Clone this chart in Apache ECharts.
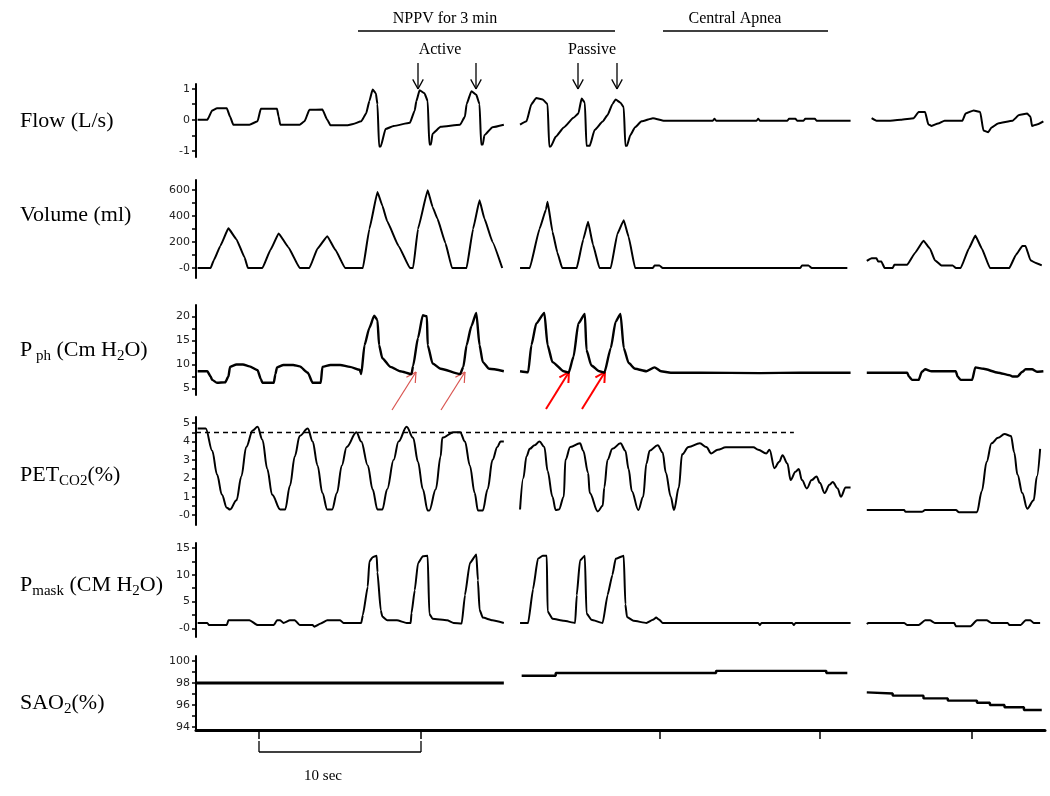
<!DOCTYPE html>
<html><head><meta charset="utf-8">
<script src="https://cdn.jsdelivr.net/npm/echarts@6/dist/echarts.min.js"></script>
<style>html,body{margin:0;padding:0;background:#fff}#c{width:1050px;height:796px}</style>
</head><body><div id="c"></div>
<script>
// ---- time in seconds (x), values per panel (y) ----
const T_MAX = 52.4;
const bottomTicks = [3.9, 13.9, 28.6, 38.5, 47.9];

const flowA = [[0.1,0],[0.7,0],[1.0,0.3],[1.3,0.37],[1.9,0.37],[2.1,0.1],[2.3,-0.16],[3.3,-0.16],[3.8,-0.05],[4.0,0.35],[5.0,0.35],[5.1,0.1],[5.2,-0.16],[6.4,-0.16],[6.7,-0.05],[7.0,0.32],[7.8,0.33],[8.1,0.0],[8.3,-0.18],[9.3,-0.18],[9.7,-0.14],[10.2,-0.05],[10.5,0.2],[10.7,0.6],[10.9,0.97],[11.1,0.85],[11.2,0.5],[11.3,-0.86],[11.4,-0.86],[11.7,-0.3],[12.2,-0.2],[13.2,-0.1],[13.5,0.3],[13.6,0.6],[13.8,0.95],[14.1,0.85],[14.3,0.6],[14.4,-0.8],[14.5,-0.8],[14.6,-0.45],[15.1,-0.23],[16.3,-0.16],[16.6,0.1],[16.7,0.5],[17.0,0.92],[17.3,0.8],[17.5,0.5],[17.6,-0.8],[17.7,-0.8],[17.8,-0.5],[18.3,-0.24],[19.0,-0.16]];
const flowB = [[20.0,-0.16],[20.4,-0.05],[20.7,0.5],[21.0,0.7],[21.4,0.65],[21.7,0.5],[21.8,-0.86],[21.9,-0.86],[22.2,-0.55],[22.7,-0.25],[23.3,0.06],[23.6,0.2],[23.8,0.68],[24.0,0.55],[24.1,-0.84],[24.3,-0.84],[24.6,-0.33],[25.1,-0.06],[25.4,0.15],[25.7,0.5],[25.9,0.65],[26.2,0.55],[26.4,0.4],[26.5,-0.84],[26.6,-0.84],[26.8,-0.5],[27.1,-0.24],[27.5,-0.05],[28.2,0.05],[28.9,-0.03],[31.9,-0.03],[32.0,0.03],[32.1,-0.03],[34.6,-0.03],[34.7,0.03],[34.8,-0.03],[36.5,-0.03],[36.6,0.03],[37.0,0.03],[37.1,-0.03],[37.5,-0.03],[37.6,0.03],[38.2,0.03],[38.3,-0.03],[40.4,-0.03]];
const flowC = [[41.7,0.05],[42.0,-0.03],[42.8,-0.03],[43.5,0.0],[44.3,0.05],[44.6,0.25],[45.0,0.25],[45.2,-0.15],[45.4,-0.2],[45.8,-0.12],[46.2,-0.03],[47.3,-0.03],[47.5,0.2],[48.0,0.3],[48.4,0.25],[48.6,-0.35],[48.9,-0.4],[49.1,-0.25],[49.5,-0.12],[50.4,-0.03],[50.8,0.15],[51.3,0.2],[51.5,0.1],[51.6,-0.2],[51.9,-0.15],[52.3,-0.05]];

const volA = [[0.1,0],[0.9,0],[1.1,60],[1.5,170],[2.0,305],[2.5,220],[3.0,80],[3.2,0],[4.1,0],[4.6,140],[5.1,266],[5.7,160],[6.4,0],[7.0,0],[7.5,150],[8.1,245],[8.6,140],[9.2,0],[10.3,0],[10.7,300],[11.2,585],[11.5,480],[11.8,360],[12.5,170],[13.2,0],[13.4,0],[13.7,300],[14.3,598],[14.6,470],[14.9,380],[15.4,190],[15.8,0],[16.7,0],[17.1,300],[17.5,521],[17.8,380],[18.3,200],[18.9,0]];
const volB = [[20.0,0],[20.6,0],[21.2,300],[21.6,450],[21.7,509],[22.0,280],[22.3,120],[22.6,0],[23.5,0],[23.9,220],[24.2,355],[24.5,180],[24.9,0],[25.6,0],[26.0,260],[26.4,368],[26.7,240],[27.1,0],[28.2,0],[28.3,20],[28.6,20],[28.8,0],[37.3,0],[37.4,20],[37.8,20],[38.0,0],[40.2,0]];
const volC = [[41.4,55],[41.7,75],[42.0,75],[42.1,50],[42.3,50],[42.5,0],[43.0,0],[43.1,25],[43.9,25],[44.4,120],[44.9,210],[45.3,150],[45.6,60],[46.0,20],[46.7,20],[46.9,0],[47.2,0],[47.7,150],[48.1,250],[48.5,150],[49.0,0],[50.2,0],[50.6,100],[51.0,170],[51.2,170],[51.5,60],[51.8,40],[52.2,20]];

const pphA = [[0.1,8.6],[0.7,8.6],[0.9,7.5],[1.0,6.8],[1.3,6.2],[1.8,6.3],[2.0,7.5],[2.1,9.5],[2.5,10.0],[2.9,10.0],[3.3,9.6],[3.8,8.8],[4.0,7.0],[4.1,6.2],[4.8,6.2],[4.9,8.0],[5.0,9.4],[5.4,9.9],[6.0,9.9],[6.4,9.6],[6.9,8.3],[7.2,6.2],[7.7,6.2],[7.8,9.5],[8.3,9.9],[8.9,9.9],[9.5,9.5],[10.1,8.9],[10.2,8.0],[10.4,14.0],[10.7,17.6],[11.0,20.1],[11.2,19.2],[11.3,14.0],[11.5,11.3],[12.0,9.5],[12.6,8.6],[13.3,8.0],[13.4,9.7],[13.7,15.5],[14.0,20.2],[14.25,20.0],[14.3,14.0],[14.6,10.2],[15.1,9.1],[16.3,8.0],[16.5,9.5],[16.7,14.0],[17.0,18.0],[17.3,20.7],[17.5,14.0],[17.7,10.5],[18.1,9.1],[19.0,8.6]];
const pphB = [[20.0,8.6],[20.5,8.4],[20.7,14.0],[21.0,18.5],[21.5,20.7],[21.7,14.0],[22.0,10.5],[22.7,8.6],[23.0,8.3],[23.3,11.6],[23.6,18.5],[24.0,20.5],[24.1,13.0],[24.4,9.8],[24.9,8.6],[25.2,8.3],[25.6,13.4],[25.9,18.9],[26.2,20.5],[26.4,13.4],[26.7,10.3],[27.1,9.1],[27.8,8.6],[28.3,9.4],[28.7,8.6],[29.3,8.3],[31.1,8.3],[34.8,8.2],[37.3,8.3],[40.4,8.3]];
const pphC = [[41.4,8.3],[43.9,8.3],[44.0,7.5],[44.2,6.8],[44.6,6.8],[44.8,8.5],[45.0,9.0],[45.4,8.6],[46.9,8.6],[47.0,7.5],[47.2,6.8],[47.9,6.8],[48.1,9.4],[48.6,9.1],[49.5,8.3],[50.2,7.8],[50.4,7.5],[50.7,7.5],[51.0,8.5],[51.2,9.0],[51.6,9.0],[51.9,8.5],[52.3,8.6]];

const petA = [[0.1,4.7],[0.6,4.7],[1.0,3.5],[1.3,2.2],[1.6,1.1],[1.9,0.4],[2.1,0.3],[2.5,0.8],[2.8,2.1],[3.1,3.7],[3.5,4.6],[3.8,4.8],[4.1,4.1],[4.4,2.5],[4.7,1.1],[5.2,0.3],[5.5,0.3],[5.8,1.6],[6.1,3.2],[6.4,4.3],[6.9,4.7],[7.2,4.0],[7.5,2.7],[7.8,1.2],[8.1,0.3],[8.4,0.3],[8.7,1.2],[9.0,2.7],[9.3,3.7],[9.9,4.5],[10.2,4.0],[10.6,2.7],[10.9,1.4],[11.2,0.3],[11.5,0.3],[11.8,1.4],[12.2,3.0],[12.5,4.0],[13.0,4.8],[13.4,4.2],[13.7,2.9],[14.0,1.4],[14.3,0.25],[14.4,0.25],[14.8,1.4],[15.1,3.2],[15.2,4.2],[15.9,4.5],[16.3,4.5],[16.6,4.0],[16.9,2.7],[17.2,1.2],[17.4,0.25],[17.7,0.25],[18.0,1.4],[18.3,3.0],[18.6,3.7],[18.8,4.0],[19.0,4.0]];
const petB = [[20.0,0.3],[20.2,2.0],[20.4,3.2],[20.6,3.6],[20.9,3.8],[21.2,4.0],[21.5,3.7],[21.7,2.4],[22.0,1.0],[22.2,0.27],[22.4,0.3],[22.7,1.0],[22.8,3.0],[23.1,3.7],[23.7,3.9],[23.9,3.5],[24.2,2.3],[24.3,1.2],[24.8,0.2],[25.1,0.5],[25.2,1.5],[25.4,3.0],[25.7,3.6],[26.2,3.9],[26.5,3.5],[26.7,2.5],[26.9,1.3],[27.3,0.27],[27.6,1.0],[27.8,2.8],[28.0,3.5],[28.5,3.8],[28.8,3.4],[29.0,2.3],[29.3,1.0],[29.5,0.27],[29.8,1.5],[30.0,3.3],[30.4,3.7],[31.1,3.9],[31.5,3.7],[31.8,3.35],[32.2,3.55],[32.7,3.68],[34.4,3.68],[34.7,3.55],[35.2,3.35],[35.4,3.55],[35.7,2.55],[36.0,2.9],[36.2,3.25],[36.5,2.8],[36.7,1.9],[37.0,2.35],[37.2,2.5],[37.4,1.9],[37.7,1.45],[38.0,1.9],[38.3,2.1],[38.5,1.75],[38.8,1.2],[39.1,1.65],[39.3,1.8],[39.6,1.45],[39.8,1.0],[40.1,1.5],[40.4,1.5]];
const petC = [[41.4,0.27],[43.7,0.27],[43.8,0.18],[44.8,0.18],[45.0,0.27],[46.9,0.27],[47.1,0.15],[48.2,0.15],[48.5,1.3],[48.8,2.9],[49.1,3.9],[49.5,4.2],[49.9,4.4],[50.3,4.3],[50.5,3.4],[50.7,2.2],[51.0,1.2],[51.3,0.35],[51.7,0.8],[51.9,2.1],[52.1,3.6]];
const petRef = 4.5, petRefEnd = 36.9;

const pmA = [[0.1,1.0],[0.7,1.0],[0.8,0.6],[1.9,0.6],[2.0,1.5],[3.3,1.5],[3.8,0.6],[4.8,0.6],[5.0,1.5],[5.2,1.5],[5.4,1.0],[5.8,1.5],[6.1,1.5],[6.4,0.6],[7.2,0.6],[7.3,0.3],[7.7,0.9],[8.1,1.5],[8.9,1.5],[9.1,1.0],[10.2,1.0],[10.3,2.5],[10.6,7.8],[10.7,12.5],[10.9,13.3],[11.15,13.6],[11.2,10.5],[11.4,3.4],[11.5,2.2],[11.8,1.5],[12.4,1.5],[13.0,1.0],[13.25,1.0],[13.3,2.8],[13.5,7.1],[13.7,12.2],[14.0,13.5],[14.3,13.6],[14.4,2.7],[14.6,1.8],[15.5,1.5],[15.9,1.0],[16.4,0.9],[16.6,6.2],[16.9,12.2],[17.3,13.8],[17.4,9.0],[17.5,3.5],[17.7,2.0],[18.3,1.5],[19.0,1.0]];
const pmB = [[20.0,1.0],[20.5,1.0],[20.8,7.3],[21.1,13.0],[21.4,13.6],[21.65,13.6],[21.7,3.2],[22.0,1.8],[22.7,1.4],[23.4,1.0],[23.5,6.2],[23.7,12.7],[24.0,13.6],[24.1,2.8],[24.4,1.6],[25.1,1.0],[25.4,6.2],[25.7,10.0],[25.9,13.0],[26.4,13.6],[26.5,4.5],[26.6,2.1],[27.0,1.4],[27.8,1.0],[28.2,1.6],[28.4,2.0],[28.6,1.6],[28.8,1.0],[34.7,1.0],[34.8,0.6],[34.9,1.0],[36.8,1.0],[36.9,0.6],[37.0,1.0],[40.4,1.0]];
const pmC = [[41.4,0.8],[41.5,1.0],[43.7,1.0],[43.9,0.6],[44.6,0.6],[45.0,1.5],[45.3,1.5],[45.6,1.0],[46.8,1.0],[46.9,0.4],[47.8,0.4],[48.2,1.5],[48.8,1.5],[49.1,1.0],[50.1,1.0],[50.2,0.6],[50.9,0.6],[51.2,1.5],[51.5,1.5],[51.7,1.0],[52.1,1.0]];

const saoA = [[0.0,98.0],[19.0,98.0]];
const saoB = [[20.1,98.65],[22.2,98.65],[22.2,98.9],[32.1,98.9],[32.1,99.1],[38.9,99.1],[38.9,98.9],[40.2,98.9]];
const saoC = [[41.4,97.15],[41.4,97.05],[43.0,97.05],[43.0,96.85],[44.9,96.85],[44.9,96.6],[46.4,96.6],[46.4,96.4],[48.2,96.4],[48.2,96.2],[49.0,96.2],[49.0,96.0],[49.9,96.0],[49.9,95.8],[51.1,95.8],[51.1,95.55],[52.2,95.55]];

// axis ticks and labels
const flowTicks = [-1,-0.5,0,0.5,1], flowLabelVals = [-1,0,1], flowLabelTxt = ['-1','0','1'];
const volTicks = [0,100,200,300,400,500,600], volLabelVals = [0,200,400,600], volLabelTxt = ['-0','200','400','600'];
const pphTicks = [5,7.5,10,12.5,15,17.5,20], pphLabelVals = [5,10,15,20], pphLabelTxt = ['5','10','15','20'];
const petTicks = [0,0.5,1,1.5,2,2.5,3,3.5,4,4.5,5], petLabelVals = [0,1,2,3,4,5], petLabelTxt = ['-0','1','2','3','4','5'];
const pmTicks = [0,2.5,5,7.5,10,12.5,15], pmLabelVals = [0,5,10,15], pmLabelTxt = ['-0','5','10','15'];
const saoTicks = [94,95,96,97,98,99,100], saoLabelVals = [94,96,98,100], saoLabelTxt = ['94','96','98','100'];

// ---- layout ----
const grids = [
  {top:84, height:73, min:-1.2, max:1.15, ticks:flowTicks, lv:flowLabelVals, lt:flowLabelTxt, segs:[flowA,flowB,flowC], w:2, smooth:0.15},
  {top:180, height:98, min:-77, max:677, ticks:volTicks, lv:volLabelVals, lt:volLabelTxt, segs:[volA,volB,volC], w:2, smooth:0.1},
  {top:305, height:90, min:3.67, max:22.34, ticks:pphTicks, lv:pphLabelVals, lt:pphLabelTxt, segs:[pphA,pphB,pphC], w:2.4, smooth:0.2},
  {top:417, height:108, min:-0.54, max:5.33, ticks:petTicks, lv:petLabelVals, lt:petLabelTxt, segs:[petA,petB,petC], w:2, smooth:0.35},
  {top:543, height:94, min:-1.63, max:15.97, ticks:pmTicks, lv:pmLabelVals, lt:pmLabelTxt, segs:[pmA,pmB,pmC], w:2, smooth:0.15},
  {top:656, height:74, min:93.73, max:100.45, ticks:saoTicks, lv:saoLabelVals, lt:saoLabelTxt, segs:[saoA,saoB,saoC], w:2.4, smooth:0}
];

const option = {animation:false, backgroundColor:'#fff', grid:[], xAxis:[], yAxis:[], series:[], graphic:[]};
grids.forEach((g,i)=>{
  option.grid.push({left:196, right:5, top:g.top, height:g.height, containLabel:false});
  const last = i===grids.length-1;
  option.xAxis.push({gridIndex:i, type:'value', min:0, max:T_MAX, show:last,
    axisLine:{show:last, onZero:false, lineStyle:{color:'#000', width:3}},
    axisTick:{show:last, customValues:bottomTicks, length:9, lineStyle:{color:'#000', width:1.5}},
    axisLabel:{show:false}, splitLine:{show:false}});
  option.yAxis.push({gridIndex:i, type:'value', min:g.min, max:g.max,
    axisLine:{show:true, onZero:false, lineStyle:{color:'#000', width:2}},
    axisTick:{show:true, customValues:g.ticks, length:4, lineStyle:{color:'#000', width:1.5}},
    axisLabel:{show:true, customValues:g.lv, margin:6, fontSize:11, fontFamily:'DejaVu Sans', color:'#222',
      formatter:(v)=>{const k=g.lv.findIndex(x=>Math.abs(x-v)<1e-6); return k>=0?g.lt[k]:'';}},
    splitLine:{show:false}});
  g.segs.forEach((s,j)=>{
    const ser = {type:'line', xAxisIndex:i, yAxisIndex:i, data:s, symbol:'none', showSymbol:false,
      smooth:g.smooth, smoothMonotone:'x',
      lineStyle:{color:'#000', width:(i===5 && j===0)?3:g.w}, silent:true};
    if (i===3 && j===0) {
      ser.markLine = {silent:true, symbol:'none', label:{show:false},
        lineStyle:{color:'#000', width:1.4, type:[5,4]},
        data:[[{coord:[0,petRef]},{coord:[petRefEnd,petRef]}]]};
    }
    option.series.push(ser);
  });
});

// ---- annotations ----
const serif = 'Liberation Serif';
const G = option.graphic;
function txt(x,y,text,size,align){G.push({type:'text', x, y, silent:true, style:{text, font:size+'px "'+serif+'"', fill:'#000', align:align||'center', verticalAlign:'middle'}});}
function ln(x1,y1,x2,y2,color,w){G.push({type:'line', silent:true, shape:{x1,y1,x2,y2}, style:{stroke:color, lineWidth:w}});}
function arrow(x1,y1,x2,y2,color,w,head){
  ln(x1,y1,x2,y2,color,w);
  const a=Math.atan2(y2-y1,x2-x1), h=head||10, s=0.5;
  ln(x2,y2,x2-h*Math.cos(a-s),y2-h*Math.sin(a-s),color,w);
  ln(x2,y2,x2-h*Math.cos(a+s),y2-h*Math.sin(a+s),color,w);
}
txt(445,19,'NPPV for 3 min',16); ln(358,31,615,31,'#000',1.5);
txt(735,19,'Central Apnea',16); ln(663,31,828,31,'#000',1.5);
txt(440,50,'Active',16); txt(592,50,'Passive',16);
[418,476,578,617].forEach(x=>arrow(x,63,x,89,'#000',1.3,11));
arrow(392,410,416,372,'#d9534f',1.2,11); arrow(441,410,465,372,'#d9534f',1.2,11);
arrow(546,409,569,372,'#ff0000',2,11); arrow(582,409,605,372,'#ff0000',2,11);
// scale bar
ln(259,752,421,752,'#000',1.3); ln(259,741,259,752,'#000',1.3); ln(421,741,421,752,'#000',1.3);
txt(323,776,'10 sec',15);
// panel titles
const rich = {n:{fontFamily:serif, fontSize:22, lineHeight:28, fill:'#000'}, s:{fontFamily:serif, fontSize:15, lineHeight:28, verticalAlign:'bottom', fill:'#000'}};
function title(y, text){G.push({type:'text', x:20, y, silent:true, style:{text, rich, fill:'#000', align:'left', verticalAlign:'middle', font:'22px "'+serif+'"'}});}
title(121,'{n|Flow (L/s)}');
title(215,'{n|Volume (ml)}');
title(350,'{n|P}{s| ph}{n| (Cm H}{s|2}{n|O)}');
title(475,'{n|PET}{s|CO2}{n|(%)}');
title(585,'{n|P}{s|mask}{n| (CM H}{s|2}{n|O)}');
title(703,'{n|SAO}{s|2}{n|(%)}');

const chart = echarts.init(document.getElementById('c'), null, {renderer:'canvas'});
chart.setOption(option);
</script></body></html>
